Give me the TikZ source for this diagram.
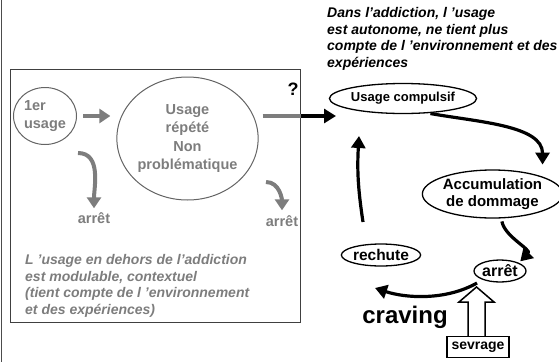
\documentclass[tikz,border=0pt]{standalone}
\usepackage{fontspec}
\setmainfont{Liberation Sans}
\usepackage{xcolor}
\usepackage{tikz}
\usetikzlibrary{arrows.meta,shapes.geometric}

\definecolor{softgrey}{RGB}{125,125,125}
\definecolor{rimgrey}{RGB}{100,100,100}

\begin{document}
\begin{tikzpicture}[x=1pt,y=-1pt,
  greyoval/.style={ellipse, draw=rimgrey, line width=1pt, inner sep=0pt, text=softgrey, font=\bfseries\fontsize{14.5}{18.5}\selectfont},
  oval/.style={ellipse, draw, line width=1.3pt, inner sep=0pt, align=center, font=\bfseries\fontsize{15}{17}\selectfont},
  greyarrow/.style={softgrey, line width=4pt, -{Triangle[length=11pt,width=14pt]}},
  fatarrow/.style={line width=3.2pt, -{Triangle[length=12pt,width=14pt]}},
  greylabel/.style={text=softgrey, inner sep=1pt, font=\bfseries\fontsize{14.5}{17}\selectfont},
  note/.style={align=left, inner sep=0pt, font=\bfseries\itshape\fontsize{14}{16.7}\selectfont}]
\useasboundingbox (0,0) rectangle (559,362);
\draw[black!70, line width=1.5pt] (1.5,0) -- (1.5,362);

% usage en dehors de l'addiction
\node[draw=black!75, line width=1pt, minimum width=290pt, minimum height=253pt, inner sep=0pt] (frame) at (155,195.5) {};
\node[greyoval, minimum width=63pt, minimum height=57pt, align=left] (first) at (45,116) {1er\\usage};
\node[greyoval, minimum width=141pt, minimum height=123pt, align=center] (repeat) at (187.5,138.5) {Usage\\répété\\Non\\problématique};
\draw[greyarrow, shorten <=6pt, shorten >=6pt] (first.east) -- (first.east -| repeat.west);
\node[greylabel] (stop1) at (94,218) {arrêt};
\node[greylabel] (stop2) at (282,221) {arrêt};
\coordinate (bend1) at (78,153);
\coordinate (bend2) at (266,182);
\draw[greyarrow, shorten >=3pt] (bend1) to[out=0,in=90] (stop1.north);
\draw[greyarrow, shorten >=4pt] (bend2) to[out=0,in=90] (stop2.north);
\node[note, text=softgrey, anchor=north west] (outside) at (25,254) {L 'usage en dehors de l’addiction\\est modulable, contextuel\\(tient compte de l 'environnement\\et des expériences)};
\node[font=\bfseries\fontsize{18}{18}\selectfont, inner sep=0pt] (query) at (293,89) {?};
\coordinate (exit) at (frame.east |- 0,116);
\coordinate (entry) at (336,116);
\draw[softgrey, line width=4pt] (repeat.east |- exit) ++(4,0) -- (exit);
\draw[fatarrow] (exit) -- (entry);

% addiction
\node[note, anchor=north west] (inside) at (327,7) {Dans l’addiction, l 'usage\\est autonome, ne tient plus\\compte de l 'environnement et des\\expériences};
\node[oval, minimum width=108pt, minimum height=30pt, font=\bfseries\fontsize{13}{15}\selectfont] (compulsive) at (403,98.5) {Usage compulsif};
\node[oval, minimum width=131pt, minimum height=48pt] (damage) at (492.5,194) {Accumulation\\de dommage};
\node[oval, minimum width=52pt, minimum height=22pt, font=\bfseries\fontsize{16}{17}\selectfont] (quit) at (500,271) {arrêt};
\node[oval, minimum width=76pt, minimum height=22pt, font=\bfseries\fontsize{15.5}{17}\selectfont] (relapse) at (381,255) {rechute};
\coordinate (riseA) at (363,222);
\coordinate (riseB) at (359,136);
\coordinate (craveA) at (477,283);
\coordinate (craveB) at (375,288);
\draw[fatarrow, shorten <=2pt, shorten >=12pt] (compulsive.-30) to[out=-10,in=90] (damage.north east);
\draw[fatarrow, shorten <=3pt, shorten >=2pt] (damage.-70) to[out=-80,in=45] (quit.north east);
\draw[fatarrow] (riseA) to[bend left=6] (riseB);
\draw[fatarrow] (craveA) .. controls (445,301) and (405,298) .. (craveB);
\node[font=\bfseries\fontsize{24}{24}\selectfont, inner sep=0pt] (craving) at (405,317) {craving};
\node[draw, line width=1.5pt, fill=white, minimum width=62pt, minimum height=21pt, inner sep=0pt, font=\bfseries\fontsize{14}{14}\selectfont] (withdrawal) at (478,347) {sevrage};
\draw[line width=1.5pt, fill=white] (withdrawal.north -| 468,0) -- (468,302) -- (459,302) -- (476.5,287) -- (494,302) -- (485,302) -- (withdrawal.north -| 485,0);
\end{tikzpicture}
\end{document}
